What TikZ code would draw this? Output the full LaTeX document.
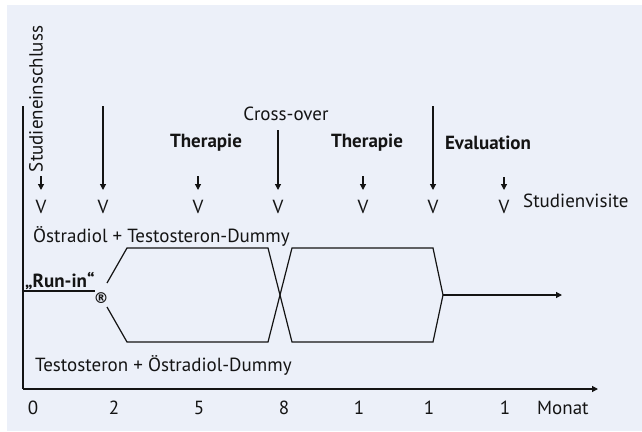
\documentclass[tikz,border=0pt]{standalone}
\usepackage{fontspec}
\setmainfont{PT Sans}
\newfontfamily\symfont{DejaVu Sans}
\usetikzlibrary{arrows.meta}
\definecolor{bg}{RGB}{236,240,249}
\definecolor{ink}{RGB}{20,20,20}
\tikzset{
  lbl/.style={font=\fontsize{19}{21}\selectfont, text=ink, inner sep=0pt},
  blbl/.style={lbl, font=\fontsize{19}{21}\selectfont\bfseries},
  ln/.style={draw=ink, line width=1.2pt},
  arr/.style={ln, -{Triangle[length=6pt,width=6pt]}},
}
\begin{document}
\begin{tikzpicture}[x=1pt,y=-1pt]
\useasboundingbox (0,0) rectangle (642,431);
\fill[bg] (7,5) rectangle (642,431);
% axes
\coordinate (o) at (23,389);
\coordinate (ytop) at (23,106);
\coordinate (xend) at (598,389);
\draw[ln] (ytop) -- (o);
\draw[arr] (o) -- (xend);
% tick labels
\node[lbl] (t0) at (33,408) {0};
\node[lbl] (t2) at (114,408) {2};
\node[lbl] (t5) at (199,408) {5};
\node[lbl] (t8) at (284,408) {8};
\node[lbl] (t10) at (359,408) {1};
\node[lbl] (t11) at (429,408) {1};
\node[lbl] (t12) at (505,408) {1};
\node[lbl, anchor=west] (monat) at (537,408) {Monat};
% top labels
\node[lbl, rotate=90] (einschluss) at (36,99) {Studieneinschluss};
\node[lbl] (cross) at (286,114) {Cross-over};
\node[blbl] (ther1) at (206,143) {Therapie};
\node[blbl] (ther2) at (367,143) {Therapie};
\node[blbl] (eval) at (488,143) {Evaluation};
\node[lbl, anchor=west] (visite) at (523,201) {Studienvisite};
% visit markers
\foreach \i/\x/\t in {1/41/176, 2/103/106, 3/198/176, 4/278/130, 5/363/176, 6/433/106, 7/504/177}{
  \coordinate (s\i) at (\x,\t);
  \coordinate (e\i) at (\x,190);
  \draw[arr] (s\i) -- (e\i);
  \node[lbl] (v\i) at (\x,207) {V};
}
% arms
\node[lbl, anchor=west] (arm1) at (33,236) {Östradiol + Testosteron-Dummy};
\node[lbl, anchor=west] (arm2) at (35,365) {Testosteron + Östradiol-Dummy};
\coordinate (r0) at (23,291);
\coordinate (r1) at (95,291);
\node[blbl, anchor=base west, inner sep=0pt] (runin) at (25,287) {„Run-in“};
\draw[ln] (r0) -- (r1);
\node[lbl, font=\fontsize{15}{16}\selectfont\symfont\bfseries] (rand) at (101,298) {®};
\coordinate (a1) at (107,283);
\coordinate (a2) at (127,248);
\coordinate (a3) at (268,248);
\coordinate (a4) at (292,342);
\coordinate (a5) at (433,342);
\coordinate (m) at (443,295);
\coordinate (b1) at (107,307);
\coordinate (b2) at (127,342);
\coordinate (b3) at (268,342);
\coordinate (b4) at (292,248);
\coordinate (b5) at (433,248);
\coordinate (fin) at (562,295);
\draw[ln] (a1) -- (a2) -- (a3) -- (a4) -- (a5) -- (m);
\draw[ln] (b1) -- (b2) -- (b3) -- (b4) -- (b5) -- (m);
\draw[arr] (m) -- (fin);
\end{tikzpicture}
\end{document}
